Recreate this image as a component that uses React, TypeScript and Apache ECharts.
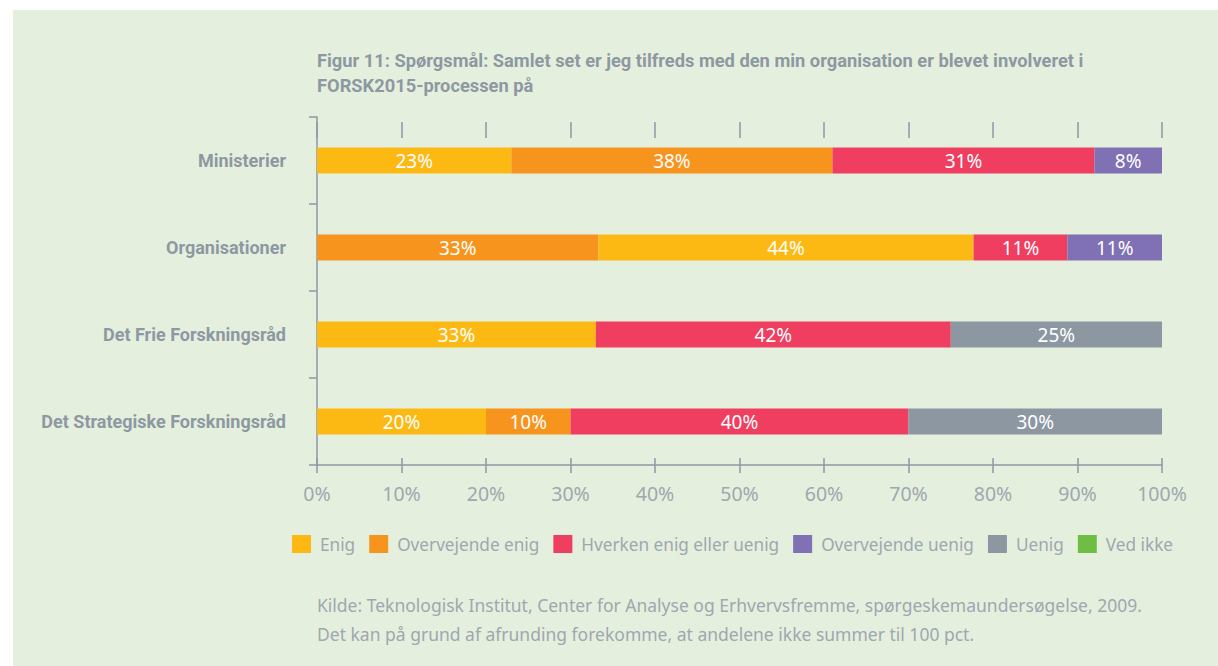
import React, { useEffect, useRef } from "react";
import * as echarts from "echarts";

const categories = [
  "Ministerier",
  "Organisationer",
  "Det Frie Forskningsråd",
  "Det Strategiske Forskningsråd",
];

const seriesNames = [
  "Enig",
  "Overvejende enig",
  "Hverken enig eller uenig",
  "Overvejende uenig",
  "Uenig",
  "Ved ikke",
];

const colors = ["#FDB913", "#F7941D", "#EF3E5F", "#8070B4", "#8C97A2", "#6EBE44"];

// values per series, in category order (null = no segment); labels are rounded
const enig = [23, 33.3, 33, 20];
const overvejendeEnig = [38, 44.4, null, 10];
const hverken = [31, 11.1, 42, 40];
const overvejendeUenig = [8, 11.2, null, null];
const uenig = [null, null, 25, 30];
const vedIkke = [null, null, null, null];

// In the reference, the first two segments of "Organisationer" appear with swapped colours
const swappedColourRow = 1;

const titleText =
  "Figur 11: Spørgsmål: Samlet set er jeg tilfreds med den min organisation er blevet involveret i\nFORSK2015-processen på";
const footerText =
  "Kilde: Teknologisk Institut, Center for Analyse og Erhvervsfremme, spørgeskemaundersøgelse, 2009.\nDet kan på grund af afrunding forekomme, at andelene ikke summer til 100 pct.";

const BOLD_FONT = 'Roboto, "Noto Sans", sans-serif';
const FONT = '"Noto Sans", Roboto, sans-serif';
const GREY = "#8E98A3";
const LIGHT = "#9FA7B0";

export default function App() {
  const ref = useRef<HTMLDivElement>(null);

  useEffect(() => {
    if (!ref.current) return;
    const chart = echarts.init(ref.current, undefined, { renderer: "svg" });
    const allData = [enig, overvejendeEnig, hverken, overvejendeUenig, uenig, vedIkke];

    const series = seriesNames.map((name, si) => ({
      name,
      type: "bar",
      stack: "total",
      barWidth: 26,
      xAxisIndex: 0,
      itemStyle: { color: colors[si] },
      label: {
        show: true,
        position: "inside",
        formatter: (p: any) => (p.value == null ? "" : Math.round(p.value) + "%"),
        color: "#FFFFFF",
        fontFamily: FONT,
        fontSize: 19,
      },
      data: allData[si].map((v, ci) => {
        if (ci === swappedColourRow && (si === 0 || si === 1)) {
          return { value: v, itemStyle: { color: colors[si === 0 ? 1 : 0] } };
        }
        return v;
      }),
    }));

    chart.setOption({
      animation: false,
      color: colors,
      graphic: [
        {
          type: "rect",
          z: -10,
          shape: { x: 13, y: 10, width: 1205, height: 656 },
          style: { fill: "#E4F0DD" },
        },
      ],
      title: [
        {
          text: titleText,
          left: 317,
          top: 48,
          padding: 0,
          textStyle: {
            fontFamily: BOLD_FONT,
            fontSize: 18.3,
            fontWeight: "bold",
            color: GREY,
            lineHeight: 25,
          },
        },
        {
          text: footerText,
          left: 317,
          top: 590,
          padding: 0,
          textStyle: {
            fontFamily: FONT,
            fontSize: 17.5,
            fontWeight: "normal",
            color: LIGHT,
            lineHeight: 29,
          },
        },
      ],
      legend: {
        data: seriesNames,
        left: 292,
        top: 535,
        padding: 0,
        icon: "rect",
        itemWidth: 19,
        itemHeight: 18,
        itemGap: 14,
        textStyle: {
          fontFamily: FONT,
          fontSize: 17.2,
          color: LIGHT,
          padding: [0, 0, 0, 4],
        },
      },
      grid: { left: 317, top: 117, width: 845, height: 348, containLabel: false },
      xAxis: [
        {
          type: "value",
          position: "bottom",
          min: 0,
          max: 100,
          interval: 10,
          axisLine: { show: true, lineStyle: { color: GREY, width: 1.5 } },
          axisTick: { show: true, length: 8, lineStyle: { color: GREY, width: 1.5 } },
          axisLabel: {
            formatter: "{value}%",
            color: LIGHT,
            fontFamily: FONT,
            fontSize: 19.5,
            margin: 18,
          },
          splitLine: { show: false },
        },
        {
          type: "value",
          position: "bottom",
          min: 0,
          max: 100,
          interval: 10,
          axisLine: { show: false },
          axisTick: { show: true, inside: true, length: 7, lineStyle: { color: GREY, width: 1.5 } },
          axisLabel: { show: false },
          splitLine: { show: false },
        },
        {
          type: "value",
          position: "top",
          offset: -5,
          min: 0,
          max: 100,
          interval: 10,
          axisLine: { show: false },
          axisTick: { show: true, inside: true, length: 16, lineStyle: { color: GREY, width: 1.5 } },
          axisLabel: { show: false },
          splitLine: { show: false },
        },
      ],
      yAxis: {
        type: "category",
        data: categories,
        inverse: true,
        axisLine: { show: true, lineStyle: { color: GREY, width: 1.5 } },
        axisTick: { show: true, length: 8, lineStyle: { color: GREY, width: 1.5 } },
        axisLabel: {
          color: GREY,
          fontFamily: BOLD_FONT,
          fontSize: 18,
          fontWeight: "bold",
          margin: 31,
        },
      },
      series,
    });

    return () => chart.dispose();
  }, []);

  return (
    <div
      ref={ref}
      style={{ position: "absolute", left: 0, top: 0, width: 1218, height: 666, background: "#FFFFFF" }}
    />
  );
}
